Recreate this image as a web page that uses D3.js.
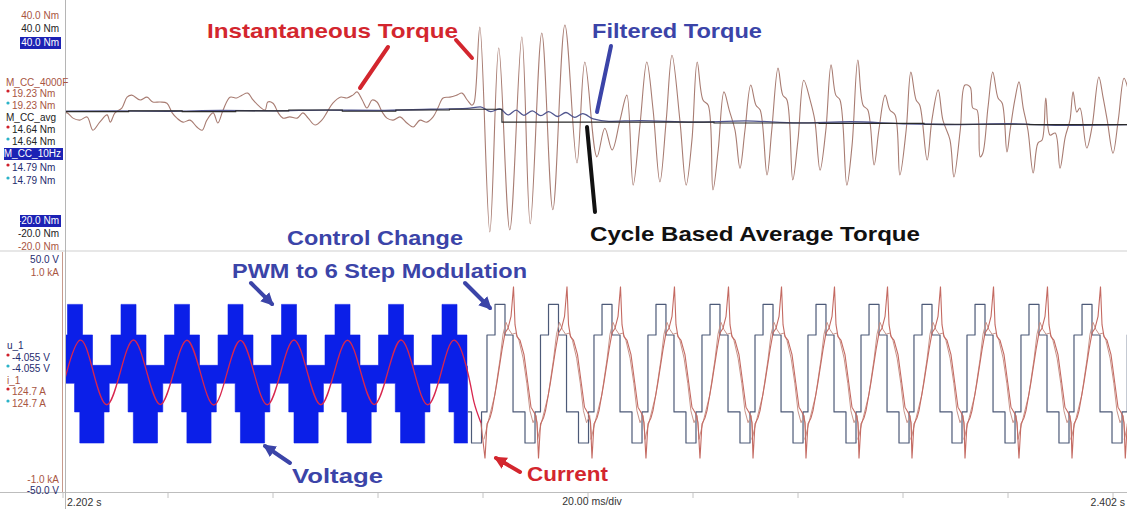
<!DOCTYPE html>
<html>
<head>
<meta charset="utf-8">
<script src="https://cdn.jsdelivr.net/npm/d3@7"></script>
<style>
  body { margin: 0; background: #fff; }
  svg { display: block; }
  text { font-family: "Liberation Sans", Arial, sans-serif; }
</style>
</head>
<body>
<svg id="scope" width="1127" height="509"></svg>
<script>
// ---- data (time in ms after 2.202 s) ----
const axisLabels = ["2.202 s", "20.00 ms/div", "2.402 s"];

// instantaneous torque [ms, Nm]
const instTorque = [
  [0,13.5],[0.8,13.5],[1.9,12.2],[3.2,11.7],[4.6,12.5],[5.7,9.2],[7.0,11.2],[8.4,13.0],[9.0,11.2],[9.9,13.5],
  [11.2,14.7],[12.2,17.4],[13.1,17.9],[14.7,16.7],[16.0,17.4],[17.1,16.2],[18.5,16.2],[19.8,15.9],[20.8,13.5],[21.7,12.2],
  [22.9,11.2],[24.2,11.7],[25.5,10.0],[26.5,9.2],[27.4,11.7],[28.6,13.5],[29.5,11.0],[30.5,14.2],[31.8,17.4],[33.1,17.2],
  [34.1,17.9],[35.2,18.4],[36.2,16.7],[37.5,15.0],[38.5,14.2],[39.0,16.2],[40.0,15.9],[41.0,13.5],[41.9,12.2],[43.2,12.5],
  [44.6,12.2],[45.7,13.5],[46.7,12.2],[48.0,10.5],[49.3,11.7],[50.3,13.7],[51.4,15.9],[52.8,17.4],[54.1,17.2],[55.2,17.9],
  [56.0,18.7],[57.0,16.7],[57.9,14.7],[58.9,16.7],[59.8,16.2],[60.8,13.7],[61.7,12.2],[62.9,11.7],[64.2,12.5],[65.5,11.0],
  [66.7,10.0],[68.0,11.7],[69.3,11.2],[70.5,12.5],[71.4,14.7],[72.4,17.2],[73.7,17.4],[75.0,17.9],[76.0,18.4],[77.0,16.7],
  [77.9,15.4],[78.3,16.0],[79.4,34.8],[81.3,-16.0],[83.0,29.6],[85.1,-15.5],[87.4,32.3],[89.0,-14.0],[91.2,33.3],[93.3,-10.5],
  [95.6,35.3],[97.9,1.1],[99.4,26.1],[101.7,2.6],[103.2,9.7],[104.6,4.3],[106.1,11.7],[107.4,17.9],[108.6,-4.4],[109.9,10.5],
  [111.2,26.1],[112.4,14.2],[113.7,-3.6],[114.9,11.7],[116.0,27.8],[117.5,11.7],[118.7,-4.4],[119.8,6.8],[120.8,26.1],[121.9,16.7],
  [122.9,15.4],[123.8,-5.6],[124.8,4.3],[125.9,18.7],[126.9,14.2],[128.0,9.2],[128.95,-0.2],[129.9,9.2],[131.0,20.4],[132.0,15.4],
  [132.8,14.2],[134.1,-1.9],[135.0,9.2],[136.2,24.6],[137.1,17.9],[137.9,16.7],[139.0,-3.1],[140.0,6.8],[141.1,21.6],[142.3,16.7],
  [143.2,11.7],[144.2,-0.7],[145.3,9.2],[146.3,25.4],[147.2,17.9],[148.0,16.7],[149.3,-4.4],[150.3,5.5],[151.4,26.6],[152.4,15.4],
  [153.3,14.2],[154.5,0.6],[155.4,9.2],[156.6,17.9],[157.5,14.2],[158.5,13.0],[159.4,-1.9],[160.6,9.2],[161.5,23.6],[162.5,16.7],
  [163.2,15.4],[164.6,1.8],[165.5,11.7],[166.7,19.2],[167.6,11.7],[168.95,6.8],[169.7,-2.4],[170.9,9.2],[171.8,20.4],[172.8,19.9],
  [173.3,14.7],[174.1,14.2],[174.7,2.6],[175.2,3.5],[176.2,15.0],[177.1,23.6],[178.1,17.2],[178.9,15.9],[179.8,3.8],[180.4,9.2],
  [181.3,16.7],[182.1,21.2],[182.9,14.7],[183.8,9.2],[184.8,-1.4],[185.7,6.0],[186.5,6.8],[187.2,17.2],[188.0,8.0],[189.0,8.5],
  [189.9,-0.2],[190.9,7.5],[191.8,11.7],[192.4,18.7],[193.1,13.7],[193.7,14.7],[195.0,4.8],[196.0,10.0],[197.3,22.4],[198.1,17.4],
  [198.9,11.7],[200.0,3.5],[201.0,11.7],[202.1,22.1],[202.9,19.2]
];

// 10 Hz filtered torque [ms, Nm]
const filteredTorque = [
  [0,13.9],[10,14.0],[20,13.9],[30,14.1],[40,14.0],[50,14.2],[60,14.1],[70,14.4],[77,14.6],[79.5,15.0],
  [81.5,13.8],[83.2,14.5],[84.8,13.0],[86.3,14.2],[87.8,12.9],[89.4,14.0],[91.0,12.8],[92.5,13.8],[94.2,12.6],[95.8,13.6],
  [97.5,12.4],[99.0,13.3],[101,12.0],[104,11.4],[110,11.6],[120,11.2],[130,11.5],[140,11.0],[150,11.3],[160,10.8],
  [170,10.6],[180,10.8],[190,10.4],[203,10.6]
];

// cycle based average torque (held per cycle) [ms, Nm]
const avgTorque = [
  [0,13.8],[12.5,14.0],[22.7,13.8],[32.9,14.0],[43.0,14.2],[53.2,13.9],[63.4,14.2],[73.6,14.4],[83.6,11.2],[124,11.0],
  [144,10.9],[164,10.7],[184,10.6],[203,10.6]
];

// PWM phase voltage: centres of the positive and negative blocks [ms]
const pwmTopCentres = [-7.9, 2.29, 12.48, 22.67, 32.86, 43.05, 53.24, 63.43, 73.62];
const pwmBottomCentres = [-4.7, 5.5, 15.7, 25.9, 36.1, 46.3, 56.4, 66.6, 76.8];
const pwmTopLevels = [3.0, 15.7, 28.5];       // V: band edge, shoulder, peak
const pwmTopWidths = [3.33, 1.43];            // ms half widths: shoulder, peak
const pwmBottomLevels = [-4.5, -16.5, -29.5];
const pwmBottomWidths = [3.3, 2.3];

// six step voltage: centres of the +2/3 step [ms]
const sixStepCentres = [73.05, 83.24, 93.43, 103.62, 113.9, 124.19, 134.29, 144.38, 154.48, 164.57, 174.67, 184.95, 195.05, 205.2];
const sixStepEdges = [-2.48, -0.95, 0.95, 2.48, 4.76, 6.67];
const sixStepLevels = [15.7, 28.5, 15.7, -16.5, -29.5, -16.5];

// phase current during PWM [ms, A]
const currentPwm = [
  [0,-112],[0.69,0],[3.24,270],[5.79,0],[8.34,-270],[10.89,0],[13.43,272],[15.98,0],[18.53,-268],[21.08,0],
  [23.62,270],[26.17,0],[28.72,-272],[31.27,0],[33.81,268],[36.36,0],[38.91,-270],[41.46,0],[44.0,272],[46.55,0],
  [49.1,-270],[51.65,0],[54.19,270],[56.74,0],[59.29,-268],[61.84,0],[64.38,272],[66.93,0],[69.48,-270],[72.03,0],
  [74.57,270],[77.1,0],[78.3,-250],[79.6,-420]
];
// phase current shape per six step cycle, offsets from step centre [ms, A]
const currentCycle = [
  [-2.86,-720],[-2.48,-430],[-1.90,-380],[-1.52,-320],[-0.57,-80],[0.38,190],[0.95,330],[1.52,370],[2.10,470],
  [2.57,720],[2.86,400],[3.24,300],[3.81,270],[4.57,150],[5.33,-100],[5.90,-290],[6.67,-350],[7.05,-420]
];
// second current trace (crossing the first near each peak and trough)
const currentCycleB = [
  [-3.05,-560],[-2.3,-420],[-1.0,-190],[0.0,110],[0.57,320],[1.14,420],[1.7,360],[2.3,320],[3.0,330],
  [3.6,270],[4.4,120],[5.1,-90],[5.7,-320],[6.3,-420],[6.9,-360],[7.2,-520]
];

// ---- scales ----
const svg = d3.select("#scope");
const x = d3.scaleLinear().domain([0, 200]).range([63, 1113]);
const yT = d3.scaleLinear().domain([-20, 40]).range([248, 6]);
const yV = d3.scaleLinear().domain([-50, 50]).range([492, 253]);
const yI = d3.scaleLinear().domain([-1000, 1000]).range([492, 253]);

const defs = svg.append("defs");
function clip(id, x0, y0, x1, y1) {
  defs.append("clipPath").attr("id", id).append("rect")
    .attr("x", x0).attr("y", y0).attr("width", x1 - x0).attr("height", y1 - y0);
}
clip("topClip", 66, 0, 1127, 250);
clip("pwmClip", 66, 252, x(77.1), 491);
clip("sixClip", x(77.1), 252, 1127, 491);
clip("botClip", 66, 252, 1127, 491);

["navArrow", "redArrow"].forEach((id, i) => {
  defs.append("marker").attr("id", id)
    .attr("viewBox", "0 0 10 10").attr("refX", 8).attr("refY", 5)
    .attr("markerWidth", 3.2).attr("markerHeight", 3.2).attr("orient", "auto")
    .append("path").attr("d", "M0,0 L10,5 L0,10 Z")
    .attr("fill", i ? "#d3262e" : "#3b44a8");
});

// frame lines
svg.append("line").attr("x1", 0).attr("x2", 1127).attr("y1", 251).attr("y2", 251).attr("stroke", "#cfcfcf");
svg.append("line").attr("x1", 0).attr("x2", 1127).attr("y1", 492.5).attr("y2", 492.5).attr("stroke", "#bdbdbd");
svg.append("line").attr("x1", 65.5).attr("x2", 65.5).attr("y1", 0).attr("y2", 509).attr("stroke", "#b5b5b5");
svg.append("line").attr("x1", 62.5).attr("x2", 62.5).attr("y1", 252).attr("y2", 492).attr("stroke", "#c79a8c");

// ---- top panel: torque ----
const topG = svg.append("g").attr("clip-path", "url(#topClip)");

topG.append("path").datum(instTorque)
  .attr("d", d3.line().x(d => x(d[0])).y(d => yT(d[1])).curve(d3.curveCatmullRom.alpha(0.5)))
  .attr("fill", "none").attr("stroke", "#a87c72").attr("stroke-width", 1.1);
topG.append("path").datum(filteredTorque)
  .attr("d", d3.line().x(d => x(d[0])).y(d => yT(d[1])).curve(d3.curveMonotoneX))
  .attr("fill", "none").attr("stroke", "#50558e").attr("stroke-width", 1.3);
topG.append("path").datum(avgTorque)
  .attr("d", d3.line().x(d => x(d[0])).y(d => yT(d[1])).curve(d3.curveStepAfter))
  .attr("fill", "none").attr("stroke", "#2a2a2a").attr("stroke-width", 1.1);

// ---- bottom panel: voltage & current ----
const pwmG = svg.append("g").attr("clip-path", "url(#pwmClip)");
function envelope(centres, lv, wd) {
  const pts = [];
  centres.forEach(c => {
    pts.push([c - wd[0], lv[0]], [c - wd[0], lv[1]], [c - wd[1], lv[1]], [c - wd[1], lv[2]],
             [c + wd[1], lv[2]], [c + wd[1], lv[1]], [c + wd[0], lv[1]], [c + wd[0], lv[0]]);
  });
  return pts;
}
const upper = envelope(pwmTopCentres, pwmTopLevels, pwmTopWidths);
const lower = envelope(pwmBottomCentres, pwmBottomLevels, pwmBottomWidths).reverse();
const lineV = d3.line().x(d => x(d[0])).y(d => yV(d[1]));
pwmG.append("path").attr("d", lineV(upper.concat(lower)) + "Z")
  .attr("fill", "#0b1fe8").attr("stroke", "#0b1fe8").attr("stroke-width", 0.6);

const sixPts = [];
sixStepCentres.forEach(c => {
  sixStepEdges.forEach((e, i) => {
    const prev = sixStepLevels[(i + 5) % 6];
    sixPts.push([c + e, prev], [c + e, sixStepLevels[i]]);
  });
});
svg.append("g").attr("clip-path", "url(#sixClip)")
  .append("path").attr("d", lineV(sixPts))
  .attr("fill", "none").attr("stroke", "#4d5a78").attr("stroke-width", 1.2)
  .attr("stroke-linejoin", "round");

const botG = svg.append("g").attr("clip-path", "url(#botClip)");
const lineI = d3.line().x(d => x(d[0])).y(d => yI(d[1]));
botG.append("path").datum(currentPwm)
  .attr("d", lineI.curve(d3.curveNatural))
  .attr("fill", "none").attr("stroke", "#d8264e").attr("stroke-width", 1.3);

const curB = [];
sixStepCentres.slice(1).forEach(c => currentCycleB.forEach(p => curB.push([c + p[0], p[1]])));
botG.append("path").datum(curB)
  .attr("d", d3.line().x(d => x(d[0])).y(d => yI(d[1])))
  .attr("fill", "none").attr("stroke", "#c9948a").attr("stroke-width", 1);

const curPts = [currentPwm[currentPwm.length - 1]];
sixStepCentres.slice(1).forEach(c => currentCycle.forEach(p => curPts.push([c + p[0], p[1]])));
botG.append("path").datum(curPts)
  .attr("d", d3.line().x(d => x(d[0])).y(d => yI(d[1])))
  .attr("fill", "none").attr("stroke", "#c46a62").attr("stroke-width", 1.1);

// ---- time axis ----
svg.append("g").selectAll("line").data(d3.range(0, 201, 20)).join("line")
  .attr("x1", d => x(d)).attr("x2", d => x(d)).attr("y1", 493).attr("y2", 498)
  .attr("stroke", "#c4c4c4");
svg.append("text").attr("x", 67).attr("y", 506).attr("font-size", 10.5).attr("fill", "#333").text(axisLabels[0]);
svg.append("text").attr("x", 592).attr("y", 505).attr("font-size", 10.5).attr("fill", "#333")
  .attr("text-anchor", "middle").text(axisLabels[1]);
svg.append("text").attr("x", 1125).attr("y", 506).attr("font-size", 10.5).attr("fill", "#333")
  .attr("text-anchor", "end").text(axisLabels[2]);

// ---- channel labels ----
const brown = "#a8553f", navy = "#1f2b6e", hiBlue = "#1c22b4";
function label(t, xx, yy, col, anchor) {
  return svg.append("text").attr("x", xx).attr("y", yy).attr("font-size", 10)
    .attr("fill", col).attr("text-anchor", anchor || "start").text(t);
}
function boxLabel(t, x0, x1, yy) {
  svg.append("rect").attr("x", x0).attr("y", yy - 9).attr("width", x1 - x0).attr("height", 12).attr("fill", hiBlue);
  label(t, x1 - 2, yy, "#fff", "end");
}
function dot(yy, col) {
  svg.append("circle").attr("cx", 8).attr("cy", yy - 6).attr("r", 1.6).attr("fill", col);
}
label("40.0 Nm", 59, 19, brown, "end");
label("40.0 Nm", 59, 32, "#222", "end");
boxLabel("40.0 Nm", 20, 61, 46);
label("M_CC_4000F", 6, 86, brown);
dot(97, "#d0202a"); label("19.23 Nm", 12, 97, brown);
dot(109, "#2bb3c8"); label("19.23 Nm", 12, 109, brown);
label("M_CC_avg", 6, 121, "#222");
dot(133, "#d0202a"); label("14.64 Nm", 12, 133, "#222");
dot(145, "#2bb3c8"); label("14.64 Nm", 12, 145, "#222");
boxLabel("M_CC_10Hz", 4, 63, 157);
dot(171, "#d0202a"); label("14.79 Nm", 12, 171, navy);
dot(184, "#2bb3c8"); label("14.79 Nm", 12, 184, navy);
boxLabel("-20.0 Nm", 20, 61, 224);
label("-20.0 Nm", 59, 237, "#222", "end");
label("-20.0 Nm", 59, 250, brown, "end");
label("50.0  V", 59, 263, navy, "end");
label("1.0 kA", 59, 276, brown, "end");
label("u_1", 7, 349, navy);
dot(361, "#d0202a"); label("-4.055  V", 12, 361, navy);
dot(372, "#2bb3c8"); label("-4.055  V", 12, 372, navy);
label("i_1", 7, 384, brown);
dot(395, "#d0202a"); label("124.7  A", 12, 395, brown);
dot(407, "#2bb3c8"); label("124.7  A", 12, 407, brown);
label("-1.0 kA", 59, 483, brown, "end");
label("-50.0  V", 59, 494, navy, "end");

// ---- annotations ----
const red = "#d3262e", blue = "#3b44a8";
function note(t, x0, x1, yy, col) {
  svg.append("text").attr("x", x0).attr("y", yy).attr("font-size", 21).attr("font-weight", "bold")
    .attr("fill", col).attr("textLength", x1 - x0).attr("lengthAdjust", "spacingAndGlyphs").text(t);
}
function pointer(x1, y1, x2, y2, col, marker) {
  const l = svg.append("line").attr("x1", x1).attr("y1", y1).attr("x2", x2).attr("y2", y2)
    .attr("stroke", col).attr("stroke-width", 4).attr("stroke-linecap", "round");
  if (marker) l.attr("marker-end", `url(#${marker})`);
}
note("Instantaneous Torque", 207, 458, 38, red);
note("Filtered Torque", 592, 762, 38, blue);
note("Cycle Based Average Torque", 590, 920, 241, "#111");
note("Control Change", 287, 463, 245, blue);
note("PWM to 6 Step Modulation", 232, 527, 278, blue);
note("Voltage", 292, 383, 483, blue);
note("Current", 527, 608, 481, red);

pointer(388, 47, 360, 88, red);
pointer(456, 40, 472, 58, red);
pointer(611, 46, 597, 112, blue);
pointer(587, 127, 595, 212, "#111");
pointer(251, 283, 272, 304, blue, "navArrow");
pointer(465, 283, 490, 308, blue, "navArrow");
pointer(290, 463, 265, 446, blue, "navArrow");
pointer(520, 472, 496, 458, red, "redArrow");
</script>
</body>
</html>
